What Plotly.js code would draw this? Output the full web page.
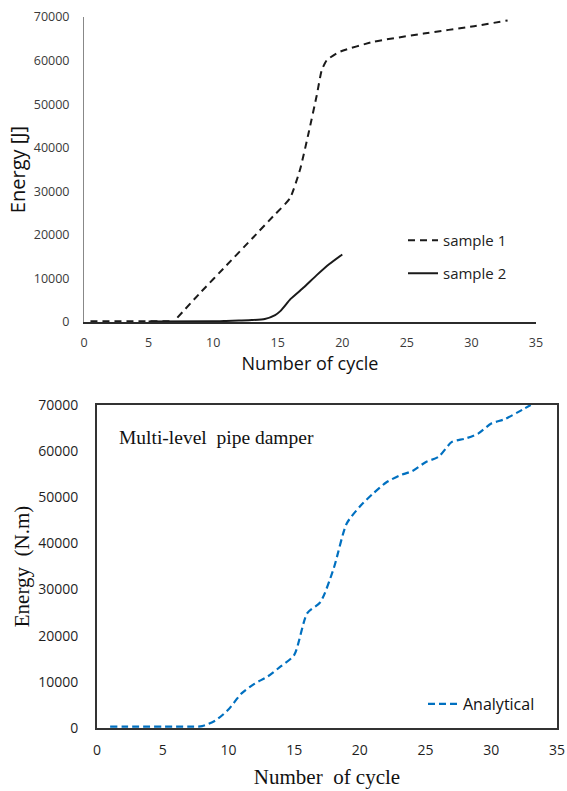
<!DOCTYPE html>
<html>
<head>
<meta charset="utf-8">
<script src="https://cdn.plot.ly/plotly-3.0.1.min.js"></script>
<style>
html,body{margin:0;padding:0;background:#fff;}
#chart{width:567px;height:791px;}
</style>
</head>
<body>
<div id="chart"></div>
<script>
// ---- Top chart data (Energy [J] vs Number of cycle) ----
const sample1FlatX = [0.5, 2, 4, 6, 7];
const sample1FlatY = [200, 200, 200, 200, 200];
const sample1X = [7.23, 9, 11, 13, 14.66, 15.95, 16.73, 17.4, 18.02, 18.41, 18.8, 19.8, 22.4, 26.3, 30.2, 32.8];
const sample1Y = [1000, 6700, 12900, 19100, 24300, 28400, 35000, 43500, 52000, 57800, 60100, 62000, 64300, 66200, 67900, 69200];
const sample2X = [5, 10, 11, 12, 13, 14, 14.8, 15.2, 16, 17, 18, 19, 20];
const sample2Y = [100, 150, 250, 350, 450, 700, 1600, 2500, 5300, 7900, 10700, 13300, 15500];

// ---- Bottom chart data (Energy (N.m) vs Number of cycle) ----
const analyticalX = [1, 2, 3, 4, 5, 6, 7, 8, 9, 10, 11, 12, 13, 14, 15, 16, 17, 18, 19, 20, 21, 22, 23, 24, 25, 26, 27, 28, 29, 30, 31, 32, 33];
const analyticalY = [300, 300, 300, 300, 300, 300, 300, 400, 1600, 4000, 7500, 9600, 11200, 13400, 15800, 24900, 27300, 34500, 44300, 48000, 50800, 53200, 54700, 55700, 57600, 58800, 62000, 62700, 63800, 66000, 66900, 68400, 70000];

// tick labels
const xTicks = [0, 5, 10, 15, 20, 25, 30, 35];
const xTickText = ['0', '5', '10', '15', '20', '25', '30', '35'];
const yTicks = [0, 10000, 20000, 30000, 40000, 50000, 60000, 70000];
const yTickText = ['0', '10000', '20000', '30000', '40000', '50000', '60000', '70000'];

const W = 567, H = 791;
const px = v => v / W;
const py = v => 1 - v / H;

const traces = [
  {x: sample1FlatX, y: sample1FlatY, xaxis: 'x', yaxis: 'y', mode: 'lines', showlegend: false,
   line: {color: '#1a1a1a', width: 2, dash: '7px,5px'}, hoverinfo: 'skip'},
  {x: sample1X, y: sample1Y, xaxis: 'x', yaxis: 'y', mode: 'lines', name: 'sample 1', legend: 'legend',
   line: {color: '#1a1a1a', width: 2, dash: '7px,5px', shape: 'spline', smoothing: 0.5}},
  {x: sample2X, y: sample2Y, xaxis: 'x', yaxis: 'y', mode: 'lines', name: 'sample 2', legend: 'legend2',
   line: {color: '#1a1a1a', width: 2, shape: 'spline', smoothing: 0.4}},
  {x: analyticalX, y: analyticalY, xaxis: 'x2', yaxis: 'y2', mode: 'lines', name: 'Analytical', legend: 'legend3',
   line: {color: '#0070C0', width: 2.2, dash: '7px,4px', shape: 'spline', smoothing: 0.7}}
];

const topTickFont = {family: 'Open Sans, sans-serif', size: 12.5, color: '#3a3a3a'};
const botTickFont = {family: 'Open Sans, sans-serif', size: 14, color: '#1f1f1f'};

const layout = {
  width: W, height: H,
  margin: {l: 0, r: 0, t: 0, b: 0},
  paper_bgcolor: '#fff', plot_bgcolor: 'rgba(0,0,0,0)',
  showlegend: true,
  xaxis: {
    domain: [px(84), px(536)], anchor: 'y', range: [0, 35], tickvals: xTicks, ticktext: xTickText,
    showgrid: false, zeroline: false, showline: true, linecolor: '#2b2b2b', linewidth: 2,
    ticks: '', ticklen: 0, ticklabelstandoff: 8, tickfont: topTickFont, automargin: false,
    title: {text: 'Number of cycle', font: {family: 'Open Sans, sans-serif', size: 18, color: '#111'}, standoff: 6}
  },
  yaxis: {
    domain: [py(322), py(17)], anchor: 'x', range: [0, 70000], tickvals: yTicks, ticktext: yTickText,
    showgrid: false, zeroline: false, showline: true, linecolor: '#888', linewidth: 1,
    ticks: '', ticklabelstandoff: 11, tickfont: topTickFont, automargin: false,
    title: {text: 'Energy [J]', font: {family: 'Open Sans, sans-serif', size: 20, color: '#111'}, standoff: 2}
  },
  xaxis2: {
    domain: [px(97), px(557)], anchor: 'y2', range: [0, 35], tickvals: xTicks, ticktext: xTickText,
    showgrid: false, zeroline: false, showline: true, mirror: true, linecolor: '#333', linewidth: 2,
    ticks: '', ticklabelstandoff: 8, tickfont: botTickFont, automargin: false,
    title: {text: 'Number&nbsp; of cycle', font: {family: 'Liberation Serif, Times New Roman, serif', size: 21, color: '#111'}, standoff: 12}
  },
  yaxis2: {
    domain: [py(728), py(405)], anchor: 'x2', range: [0, 70000], tickvals: yTicks, ticktext: yTickText,
    showgrid: false, zeroline: false, showline: true, mirror: true, linecolor: '#333', linewidth: 2,
    ticks: '', ticklabelstandoff: 14, tickfont: botTickFont, automargin: false,
    title: {text: 'Energy&nbsp; (N.m)', font: {family: 'Liberation Serif, Times New Roman, serif', size: 21, color: '#111'}, standoff: 3}
  },
  legend: {x: px(403), y: py(224), xanchor: 'left', yanchor: 'top', bgcolor: 'rgba(0,0,0,0)',
           font: {family: 'Open Sans, sans-serif', size: 15, color: '#222'}},
  legend2: {x: px(403), y: py(257), xanchor: 'left', yanchor: 'top', bgcolor: 'rgba(0,0,0,0)',
            font: {family: 'Open Sans, sans-serif', size: 15, color: '#222'}},
  legend3: {x: px(423), y: py(687), xanchor: 'left', yanchor: 'top', bgcolor: 'rgba(0,0,0,0)',
            font: {family: 'Open Sans, sans-serif', size: 16, color: '#111'}},
  annotations: [
    {text: 'Multi-level&nbsp; pipe damper', xref: 'paper', yref: 'paper', x: px(117), y: py(437),
     xanchor: 'left', yanchor: 'middle', showarrow: false,
     font: {family: 'Liberation Serif, Times New Roman, serif', size: 19.5, color: '#111'}}
  ]
};

Plotly.newPlot('chart', traces, layout, {staticPlot: true, displayModeBar: false});
</script>
</body>
</html>
